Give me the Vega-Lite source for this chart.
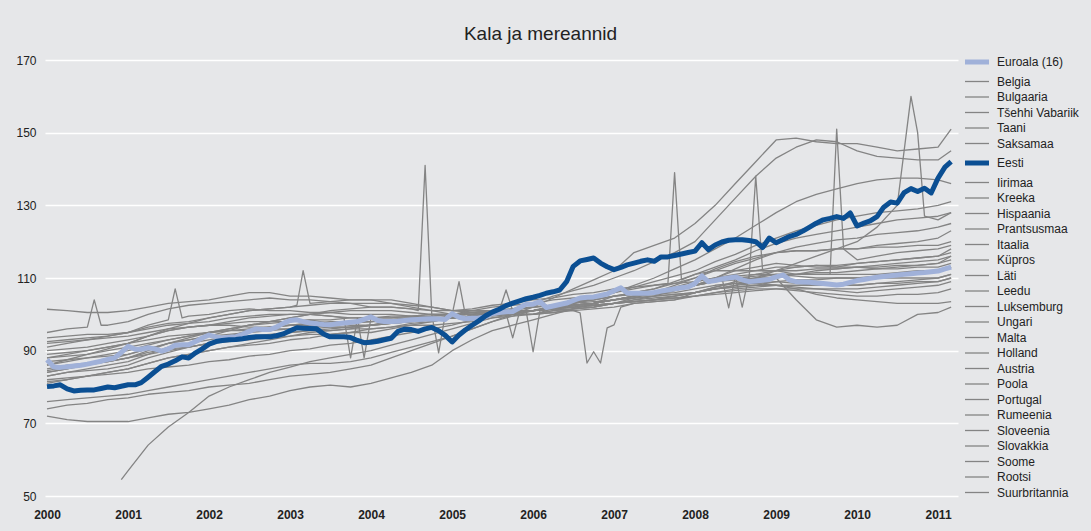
{
"$schema":"https://vega.github.io/schema/vega-lite/v6.json",
"width":913,"height":436,
"autosize":{"type":"none"},
"padding":{"left":45,"top":60,"right":133,"bottom":35},
"background":"#e6e7e9",
"config":{"view":{"stroke":null}},
"title":{"text":"Kala ja mereannid","font":"Liberation Sans","fontSize":19,"fontWeight":"normal","color":"#222222","anchor":"middle","frame":"group","dx":39,"offset":-5,"baseline":"alphabetic"},
"datasets":{
"names":[{"k":"EA","c":"Euroala (16)"},{"k":"BE","c":"Belgia"},{"k":"BG","c":"Bulgaaria"},{"k":"CZ","c":"Tšehhi Vabariik"},{"k":"DK","c":"Taani"},{"k":"DE","c":"Saksamaa"},{"k":"EE","c":"Eesti"},{"k":"IE","c":"Iirimaa"},{"k":"GR","c":"Kreeka"},{"k":"ES","c":"Hispaania"},{"k":"FR","c":"Prantsusmaa"},{"k":"IT","c":"Itaalia"},{"k":"CY","c":"Küpros"},{"k":"LV","c":"Läti"},{"k":"LT","c":"Leedu"},{"k":"LU","c":"Luksemburg"},{"k":"HU","c":"Ungari"},{"k":"MT","c":"Malta"},{"k":"NL","c":"Holland"},{"k":"AT","c":"Austria"},{"k":"PL","c":"Poola"},{"k":"PT","c":"Portugal"},{"k":"RO","c":"Rumeenia"},{"k":"SI","c":"Sloveenia"},{"k":"SK","c":"Slovakkia"},{"k":"FI","c":"Soome"},{"k":"SE","c":"Rootsi"},{"k":"UK","c":"Suurbritannia"}],
"rows":[
{"t":"2000-01","EA":87.5,"EE":80.1,"BE":85,"BG":74,"CZ":92,"DK":91,"DE":89,"IE":83,"GR":86,"ES":84,"FR":88,"IT":84.5,"CY":95,"LV":82,"LT":76,"HU":81,"LU":87,"MT":93.5,"NL":90,"AT":92.5,"PL":88,"PT":86,"SI":81.5,"SK":72,"FI":83,"SE":84,"UK":101.4},
{"t":"2000-02","EA":85.5,"EE":80.3},
{"t":"2000-03","EA":85.4,"EE":80.6},
{"t":"2000-04","EA":85.6,"EE":79.5,"BE":86,"BG":75,"CZ":92.5,"DK":92,"DE":89.5,"IE":84,"GR":87,"ES":85,"FR":88.5,"IT":85.5,"CY":96,"LV":82.5,"LT":76.5,"HU":82,"LU":87.5,"MT":94,"NL":90.5,"AT":93,"PL":89,"PT":87.5,"SI":82,"SK":71,"FI":84,"SE":85,"UK":101},
{"t":"2000-05","EA":85.8,"EE":78.9},
{"t":"2000-06","EA":86.0,"EE":79.1},
{"t":"2000-07","EA":86.3,"EE":79.2,"BE":86.5,"BG":75.5,"CZ":93,"DK":93,"DE":90,"IE":85,"GR":88,"ES":86.5,"FR":89,"IT":86.5,"CY":96.5,"LV":83,"LT":77,"HU":83,"LU":88,"MT":94.5,"NL":91,"AT":93.5,"PL":90,"PT":89,"SI":83,"SK":70.5,"FI":84.5,"SE":86,"UK":100.5},
{"t":"2000-08","EA":86.7,"EE":79.2,"CY":104},
{"t":"2000-09","EA":87.1,"EE":79.6,"CY":97},
{"t":"2000-10","EA":87.6,"EE":80,"BE":87,"BG":76.5,"CZ":93.5,"DK":94,"DE":91,"IE":86,"GR":89,"ES":87.5,"FR":90,"IT":87,"CY":97,"LV":83.5,"LT":77.5,"HU":84,"LU":88.5,"MT":94.5,"NL":92,"AT":94,"PL":91,"PT":90.5,"SI":84,"SK":70.5,"FI":85,"SE":87,"UK":100.5},
{"t":"2000-11","EA":88.0,"EE":79.8},
{"t":"2000-12","EA":89.5,"EE":80.2,"RO":54.5},
{"t":"2001-01","EA":91.2,"EE":80.6,"BE":88,"BG":77,"CZ":94,"DK":95,"DE":92,"IE":87,"GR":90,"ES":89,"FR":91,"IT":88,"CY":98,"LV":84,"LT":78,"HU":85,"LU":89,"MT":95,"NL":93,"AT":95,"PL":92,"PT":92,"RO":57,"SI":85,"SK":70.5,"FI":86,"SE":88,"UK":101},
{"t":"2001-02","EA":90.4,"EE":80.6},
{"t":"2001-03","EA":90.4,"EE":81.2},
{"t":"2001-04","EA":90.8,"EE":82.7,"BE":89.5,"BG":78,"CZ":95,"DK":97,"DE":94,"IE":89,"GR":91.5,"ES":90.5,"FR":92,"IT":89,"CY":100,"LV":85,"LT":79,"HU":86.5,"LU":90.5,"MT":96,"NL":94,"AT":96.5,"PL":93,"PT":94,"RO":64,"SI":86.5,"SK":71.5,"FI":88,"SE":90,"UK":102},
{"t":"2001-05","EA":90.5,"EE":84.2},
{"t":"2001-06","EA":89.9,"EE":85.7},
{"t":"2001-07","EA":90.5,"EE":86.3,"BE":90.5,"BG":78.5,"CZ":96,"DK":98.5,"DE":95.5,"IE":91,"GR":93,"ES":92,"FR":93,"IT":90,"CY":101.5,"LV":85.5,"LT":80,"HU":88,"LU":92,"MT":97,"NL":95.5,"AT":97.5,"PL":94,"PT":96,"RO":69,"SI":88,"SK":72.5,"FI":89.5,"SE":92,"UK":103},
{"t":"2001-08","EA":91.5,"EE":87.2,"DK":107},
{"t":"2001-09","EA":91.6,"EE":88.3,"DK":99},
{"t":"2001-10","EA":91.6,"EE":88,"BE":91,"BG":79,"CZ":96.5,"DK":99.5,"DE":96.5,"IE":92,"GR":94,"ES":93.5,"FR":94,"IT":91,"CY":102.5,"LV":86,"LT":81,"HU":89,"LU":93,"MT":97.5,"NL":96.5,"AT":98,"PL":94.5,"PT":97.5,"RO":73,"SI":89,"SK":73,"FI":91,"SE":93,"UK":103.5},
{"t":"2001-11","EA":92.5,"EE":89.4},
{"t":"2001-12","EA":93.5,"EE":90.5},
{"t":"2002-01","EA":94.3,"EE":91.8,"BE":92,"BG":80,"CZ":97,"DK":100,"DE":97,"IE":93,"GR":95,"ES":95,"FR":95,"IT":92,"CY":103,"LV":87,"LT":82,"HU":90,"LU":94,"MT":98,"NL":97,"AT":99,"PL":95,"PT":99,"RO":77.5,"SI":90,"SK":74,"FI":92,"SE":94,"UK":104},
{"t":"2002-02","EA":93.8,"EE":92.5},
{"t":"2002-03","EA":93.5,"EE":92.8},
{"t":"2002-04","EA":93.7,"EE":93,"BE":93,"BG":80.5,"CZ":97.5,"DK":101,"DE":97,"IE":94,"GR":96,"ES":96,"FR":95.5,"IT":92.5,"CY":103.5,"LV":87.5,"LT":83,"HU":91,"LU":94.5,"MT":99,"NL":98,"AT":100,"PL":95.5,"PT":100,"RO":80,"SI":91,"SK":75,"FI":93,"SE":95.5,"UK":105},
{"t":"2002-05","EA":93.8,"EE":93.1},
{"t":"2002-06","EA":94.5,"EE":93.3},
{"t":"2002-07","EA":95.3,"EE":93.6,"BE":94,"BG":81,"CZ":98,"DK":101.5,"DE":96.5,"IE":95.5,"GR":97,"ES":97,"FR":96,"IT":93,"CY":104,"LV":88.5,"LT":84,"HU":92,"LU":95,"MT":99.5,"NL":99,"AT":101,"PL":95.5,"PT":101,"RO":82,"SI":91.5,"SK":76.5,"FI":93.5,"SE":97,"UK":106},
{"t":"2002-08","EA":96.0,"EE":93.8},
{"t":"2002-09","EA":95.8,"EE":93.8},
{"t":"2002-10","EA":95.8,"EE":93.8,"BE":94.5,"BG":82,"CZ":98,"DK":101,"DE":96.5,"IE":96.5,"GR":97.5,"ES":98,"FR":96.5,"IT":93.5,"CY":104.5,"LV":89,"LT":85,"HU":93,"LU":95.5,"MT":100,"NL":99.5,"AT":101.5,"PL":96,"PT":101.5,"RO":84,"SI":92,"SK":77.5,"FI":94,"SE":98,"UK":106},
{"t":"2002-11","EA":96.5,"EE":94.1},
{"t":"2002-12","EA":97.5,"EE":94.6},
{"t":"2003-01","EA":98.3,"EE":95.5,"BE":95,"BG":83,"CZ":98,"DK":101,"DE":97,"IE":97,"GR":98,"ES":99,"FR":97,"IT":94,"CY":104,"LV":90,"LT":86,"HU":94,"LU":96,"MT":100,"NL":100,"AT":102,"PL":96,"PT":102,"RO":85.5,"SI":93,"SK":79,"FI":95,"SE":99,"UK":105},
{"t":"2003-02","EA":98.5,"EE":96.3,"AT":102.5},
{"t":"2003-03","EA":98.0,"EE":96.2,"AT":112},
{"t":"2003-04","EA":97.6,"EE":96.1,"BE":95.5,"BG":83.5,"CZ":98.5,"DK":100.5,"DE":97,"IE":97.5,"GR":98.5,"ES":100,"FR":97.5,"IT":95,"CY":104,"LV":90.5,"LT":86.5,"HU":94.5,"LU":96.5,"MT":100,"NL":100,"AT":103,"PL":96,"PT":102.5,"RO":87,"SI":93.5,"SK":80,"FI":95.5,"SE":100,"UK":105},
{"t":"2003-05","EA":97.4,"EE":96},
{"t":"2003-06","EA":97.2,"EE":94.6},
{"t":"2003-07","EA":97.1,"EE":93.8,"BE":96,"BG":84,"CZ":97.5,"DK":100.5,"DE":96.5,"IE":98,"GR":98.5,"ES":101,"FR":97.5,"IT":95.5,"CY":103.5,"LV":91.5,"LT":86.5,"HU":94.5,"LU":97,"MT":99.5,"NL":99.5,"AT":103.5,"PL":96.5,"PT":103,"RO":88,"SI":94.5,"SK":80.5,"FI":95.5,"SE":100.5,"UK":104.5},
{"t":"2003-08","EA":97.4,"EE":93.8},
{"t":"2003-09","EA":97.6,"EE":93.8,"NL":99},
{"t":"2003-10","EA":97.8,"EE":93.6,"BE":96.5,"BG":85,"CZ":97,"DK":100,"DE":96.5,"IE":98,"GR":99,"ES":101.5,"FR":98,"IT":96,"CY":103,"LV":92,"LT":87,"HU":95,"LU":97.5,"MT":99,"NL":88,"AT":104,"PL":96.5,"PT":103,"RO":89,"SI":95,"SK":80,"FI":96,"SE":101,"UK":104},
{"t":"2003-11","EA":98.0,"EE":92.8,"NL":99},
{"t":"2003-12","EA":98.6,"EE":92.2,"NL":88},
{"t":"2004-01","EA":99.3,"EE":92.3,"BE":97,"BG":86,"CZ":97,"DK":100,"DE":97,"IE":98,"GR":99,"ES":102,"FR":98,"IT":97,"CY":102,"LV":93,"LT":88,"HU":95,"LU":98,"MT":99,"NL":99,"AT":104,"PL":97,"PT":103,"RO":90,"SI":96,"SK":81,"FI":96,"SE":101,"UK":104},
{"t":"2004-02","EA":98.3,"EE":92.6},
{"t":"2004-03","EA":98.0,"EE":93},
{"t":"2004-04","EA":98.0,"EE":93.4,"BE":97.5,"BG":88,"CZ":98,"DK":100,"DE":97.5,"IE":98,"GR":99.5,"ES":102,"FR":98.5,"IT":97.5,"CY":102,"LV":94,"LT":89.5,"HU":96,"LU":98.5,"MT":99,"NL":99,"AT":104,"PL":98,"PT":103,"RO":91.5,"SI":96.5,"SK":82.5,"FI":96.5,"SE":101,"UK":103},
{"t":"2004-05","EA":98.1,"EE":95.3},
{"t":"2004-06","EA":98.3,"EE":95.9},
{"t":"2004-07","EA":98.5,"EE":95.8,"BE":98,"BG":90,"CZ":98.5,"DK":99.5,"DE":98,"IE":98.5,"GR":99.5,"ES":101.5,"FR":99,"IT":98,"CY":101.5,"LV":95,"LT":91,"HU":97,"LU":99,"MT":99.5,"NL":99,"AT":103,"PL":99,"PT":102.5,"RO":93,"SI":97.5,"SK":84,"FI":97,"SE":100.5,"UK":102},
{"t":"2004-08","EA":98.6,"EE":95.3,"CY":101},
{"t":"2004-09","EA":98.7,"EE":96,"CY":141},
{"t":"2004-10","EA":98.8,"EE":96.4,"BE":98.5,"BG":92,"CZ":99,"DK":99,"DE":98.5,"IE":99,"GR":100,"ES":101,"FR":99,"IT":98.5,"CY":100,"LV":96,"LT":92.5,"HU":98,"LU":99.5,"MT":100,"NL":99,"AT":102,"PL":99.5,"PT":102,"RO":94.5,"SI":98,"SK":86,"FI":97,"SE":100,"UK":101},
{"t":"2004-11","EA":98.7,"EE":95.5,"SE":89.4},
{"t":"2004-12","EA":98.6,"EE":94.2,"SE":100},
{"t":"2005-01","EA":100.2,"EE":92.4,"BE":99,"BG":94,"CZ":99,"DK":99,"DE":99,"IE":99,"GR":100,"ES":101,"FR":99.5,"IT":99,"CY":100,"LV":97,"LT":94,"HU":99,"LU":100,"MT":100,"NL":99,"AT":101,"PL":100,"PT":101,"RO":96,"SI":99,"SK":90,"FI":97.5,"SE":100,"UK":100},
{"t":"2005-02","EA":99.2,"EE":94.3,"UK":109},
{"t":"2005-03","EA":98.8,"EE":95.7,"UK":100},
{"t":"2005-04","EA":98.9,"EE":97,"BE":99.5,"BG":96,"CZ":99.5,"DK":99.5,"DE":99.5,"IE":99.5,"GR":101,"ES":101.5,"FR":100,"IT":99.5,"CY":100.5,"LV":98.5,"LT":96,"HU":99.5,"LU":100.5,"MT":100.5,"NL":99.5,"AT":100.5,"PL":100,"PT":101,"RO":97.5,"SI":99.5,"SK":93,"FI":98,"SE":100,"UK":100},
{"t":"2005-05","EA":99.0,"EE":98.2},
{"t":"2005-06","EA":99.3,"EE":99.6},
{"t":"2005-07","EA":100.2,"EE":100.6,"BE":100.5,"BG":98,"CZ":100,"DK":100,"DE":100,"IE":100,"GR":102,"ES":102.5,"FR":100.5,"IT":100,"CY":101,"LV":100,"LT":98,"HU":100,"LU":101,"MT":100.5,"NL":99.5,"AT":100,"PL":100.5,"PT":101,"RO":99,"SI":100,"SK":95.5,"FI":99,"SE":100.5,"UK":100.5},
{"t":"2005-08","EA":100.5,"EE":101.4,"PT":101},
{"t":"2005-09","EA":100.7,"EE":102.4,"PT":106.7,"IE":100.3},
{"t":"2005-10","EA":100.8,"EE":103.1,"BE":101,"BG":100,"CZ":100,"DK":100.5,"DE":100.5,"IE":93.5,"GR":102.5,"ES":103,"FR":100.5,"IT":100.5,"CY":101.5,"LV":101.5,"LT":99.5,"HU":100,"LU":101.5,"MT":101,"NL":100,"AT":100,"PL":100.5,"PT":101,"RO":100,"SI":100.5,"SK":97,"FI":99.5,"SE":100.5,"UK":100.5},
{"t":"2005-11","EA":101.8,"EE":103.7,"IE":100.7},
{"t":"2005-12","EA":102.8,"EE":104.3,"FR":100.8},
{"t":"2006-01","EA":102.8,"EE":104.7,"BE":102,"BG":102,"CZ":100,"DK":101,"DE":101,"IE":101,"GR":103,"ES":104,"FR":89.7,"IT":101,"CY":102,"LV":103,"LT":101,"HU":100,"LU":102,"MT":101,"NL":100,"AT":100,"PL":101,"PT":101,"RO":101,"SI":101,"SK":98.5,"FI":100,"SE":101,"UK":101},
{"t":"2006-02","EA":103.5,"EE":105.2,"FR":101},
{"t":"2006-03","EA":101.9,"EE":105.8},
{"t":"2006-04","EA":102.3,"EE":106.2,"BE":102.5,"BG":104.5,"CZ":101,"DK":101.5,"DE":101.5,"IE":102,"GR":104,"ES":104.5,"FR":101.5,"IT":101.5,"CY":102.5,"LV":105,"LT":102.5,"HU":101.5,"LU":102.5,"MT":101.5,"NL":100.5,"AT":100.5,"PL":101.5,"PT":101.5,"RO":102,"SI":102,"SK":100,"FI":101,"SE":101.5,"UK":101.5},
{"t":"2006-05","EA":102.7,"EE":106.7},
{"t":"2006-06","EA":103.1,"EE":109},
{"t":"2006-07","EA":103.8,"EE":113.2,"BE":103.5,"BG":107,"CZ":101.5,"DK":102.5,"DE":102,"IE":102.5,"GR":104.5,"ES":105.5,"FR":102,"IT":102.5,"CY":103.5,"LV":106.5,"LT":104,"HU":103,"LU":103,"MT":101,"NL":101,"AT":101.5,"PL":102,"PT":102,"RO":103,"SI":102.5,"SK":101.5,"FI":101.5,"SE":102.5,"UK":102.5},
{"t":"2006-08","EA":104.5,"EE":114.7,"MT":100.4},
{"t":"2006-09","EA":104.7,"EE":115.1,"MT":86.6},
{"t":"2006-10","EA":104.8,"EE":115.5,"BE":104,"BG":109.5,"CZ":102,"DK":103,"DE":102.5,"IE":103,"GR":105,"ES":106,"FR":102.5,"IT":103,"CY":104,"LV":108,"LT":105,"HU":104.5,"LU":103.5,"MT":89.7,"NL":101.5,"AT":102,"PL":102.5,"PT":102.5,"RO":104,"SI":103,"SK":103,"FI":102,"SE":103,"UK":103},
{"t":"2006-11","EA":105.2,"EE":114.1,"MT":86.6},
{"t":"2006-12","EA":105.6,"EE":113.1,"MT":96.3},
{"t":"2007-01","EA":106.5,"EE":112.3,"BE":105,"BG":112,"CZ":103,"DK":104,"DE":103,"IE":104,"GR":106,"ES":107,"FR":103,"IT":104,"CY":105,"LV":110,"LT":106,"HU":106,"LU":104,"MT":97.1,"NL":102,"AT":103,"PL":103,"PT":103,"RO":105,"SI":104,"SK":105,"FI":103,"SE":104,"UK":104},
{"t":"2007-02","EA":107.3,"EE":112.9,"MT":102},
{"t":"2007-03","EA":105.9,"EE":113.6},
{"t":"2007-04","EA":105.8,"EE":114.1,"BE":105.5,"BG":117,"CZ":104.5,"DK":105,"DE":103.5,"IE":105,"GR":107,"ES":107.5,"FR":103.5,"IT":104.5,"CY":105.5,"LV":112,"LT":108,"HU":107.5,"LU":105,"MT":103,"NL":103,"AT":104,"PL":104,"PT":103.5,"RO":106,"SI":105,"SK":106,"FI":103.5,"SE":104.5,"UK":105},
{"t":"2007-05","EA":105.8,"EE":114.6},
{"t":"2007-06","EA":105.8,"EE":115},
{"t":"2007-07","EA":106.0,"EE":114.6,"BE":106,"BG":119,"CZ":106,"DK":106,"DE":104,"IE":105.5,"GR":108,"ES":108,"FR":104,"IT":105,"CY":106,"LV":114.5,"LT":110,"HU":109,"LU":106,"MT":103.5,"NL":103.5,"AT":104.5,"PL":105,"PT":104,"RO":107,"SI":106,"SK":107,"FI":104,"SE":105,"UK":105.5},
{"t":"2007-08","EA":106.4,"EE":115.8},
{"t":"2007-09","EA":106.7,"EE":115.8,"GR":108.5},
{"t":"2007-10","EA":107.0,"EE":116.2,"BE":107,"BG":121,"CZ":108,"DK":107,"DE":105,"IE":106,"GR":139,"ES":108.5,"FR":104.5,"IT":105.5,"CY":107,"LV":117,"LT":112.5,"HU":110.5,"LU":107,"MT":104,"NL":104,"AT":105,"PL":106.5,"PT":104.5,"RO":109,"SI":107.5,"SK":108.5,"FI":105,"SE":105.5,"UK":106.5},
{"t":"2007-11","EA":107.3,"EE":116.6,"GR":109.5},
{"t":"2007-12","EA":107.5,"EE":117},
{"t":"2008-01","EA":108.5,"EE":117.4,"BE":108,"BG":125,"CZ":110,"DK":108,"DE":106,"IE":107,"GR":111,"ES":109,"FR":105,"IT":106,"CY":108,"LV":120,"LT":115,"HU":112,"LU":108,"MT":106,"NL":105,"AT":106,"PL":108,"PT":105,"RO":111,"SI":109,"SK":110,"FI":106,"SE":106,"UK":108},
{"t":"2008-02","EA":110.6,"EE":119.7},
{"t":"2008-03","EA":109.0,"EE":117.8},
{"t":"2008-04","EA":109.3,"EE":119.1,"BE":109.5,"BG":130,"CZ":112.5,"DK":110,"DE":107,"IE":108,"GR":112,"ES":110,"FR":105.5,"IT":107,"CY":109,"LV":126,"LT":118,"HU":114.5,"LU":109,"MT":107,"NL":106,"AT":107,"PL":110,"PT":106,"RO":113,"SI":110,"SK":112,"FI":107.5,"SE":107.5,"UK":109},
{"t":"2008-05","EA":109.7,"EE":119.9,"ES":110.2},
{"t":"2008-06","EA":110.0,"EE":120.4,"ES":101.8},
{"t":"2008-07","EA":110.3,"EE":120.5,"BE":110.5,"BG":136,"CZ":114.5,"DK":112,"DE":107.5,"IE":108.5,"GR":112,"ES":110.5,"FR":106,"IT":107.5,"CY":110,"LV":132,"LT":121,"HU":116.5,"LU":110,"MT":108,"NL":107,"AT":108,"PL":112.5,"PT":106.5,"RO":115,"SI":111,"SK":114,"FI":109,"SE":108.5,"UK":109.5},
{"t":"2008-08","EA":109.5,"EE":120.5,"ES":102},
{"t":"2008-09","EA":109.0,"EE":120.3,"ES":110.7,"CY":110},
{"t":"2008-10","EA":109.2,"EE":120,"BE":111,"BG":142,"CZ":116,"DK":113,"DE":108,"IE":108.5,"GR":112,"ES":111,"FR":106.5,"IT":108,"CY":138,"LV":138,"LT":124.5,"HU":119,"LU":110.5,"MT":110,"NL":107.5,"AT":108.5,"PL":115,"PT":107,"RO":117.5,"SI":112,"SK":115.5,"FI":110,"SE":109.5,"UK":110},
{"t":"2008-11","EA":109.4,"EE":118.4,"CY":112},
{"t":"2008-12","EA":109.6,"EE":121},
{"t":"2009-01","EA":110.3,"EE":119.7,"BE":112,"BG":148,"CZ":117,"DK":114,"DE":108,"IE":108,"GR":112,"ES":111,"FR":107,"IT":109,"CY":112,"LV":143,"LT":128,"HU":121,"LU":111,"MT":112,"NL":108,"AT":109,"PL":117,"PT":107,"RO":119.5,"SI":113,"SK":117,"FI":111,"SE":110,"UK":110},
{"t":"2009-02","EA":110.8,"EE":120.6},
{"t":"2009-03","EA":109.5,"EE":121.4},
{"t":"2009-04","EA":109.0,"EE":122,"BE":112,"BG":148.5,"CZ":117.5,"DK":113.5,"DE":107.5,"IE":107,"GR":111,"ES":110.5,"FR":107,"IT":109.5,"CY":113,"LV":146,"LT":131,"HU":123,"LU":111,"MT":114,"NL":108,"AT":108.5,"PL":118.5,"PT":106.5,"RO":121,"SI":113,"SK":117.5,"FI":111,"SE":111,"UK":104},
{"t":"2009-05","EA":108.9,"EE":122.9},
{"t":"2009-06","EA":108.8,"EE":124},
{"t":"2009-07","EA":108.6,"EE":125.1,"BE":112.5,"BG":147.5,"CZ":117.5,"DK":113,"DE":107,"IE":105.5,"GR":111,"ES":110,"FR":107,"IT":109.5,"CY":113.5,"LV":148,"LT":133,"HU":124.5,"LU":111.5,"MT":116,"NL":108,"AT":108,"PL":119.5,"PT":106,"RO":122,"SI":113.5,"SK":117.5,"FI":111,"SE":112,"UK":98.5},
{"t":"2009-08","EA":108.5,"EE":126},
{"t":"2009-09","EA":108.3,"EE":126.4,"GR":111},
{"t":"2009-10","EA":108.1,"EE":126.9,"BE":112.5,"BG":147,"CZ":118,"DK":113,"DE":106.5,"IE":104.5,"GR":151,"ES":110,"FR":107,"IT":110,"CY":113,"LV":147.5,"LT":134.5,"HU":126,"LU":111.5,"MT":118,"NL":108,"AT":108,"PL":120.5,"PT":105.5,"RO":123,"SI":113.5,"SK":118,"FI":111,"SE":112.5,"UK":96.5},
{"t":"2009-11","EA":108.3,"EE":126.4,"GR":118},
{"t":"2009-12","EA":108.8,"EE":127.9},
{"t":"2010-01","EA":109.3,"EE":124.3,"BE":113,"BG":147,"CZ":118,"DK":113,"DE":106,"IE":104,"GR":115,"ES":110,"FR":107,"IT":110,"CY":114,"LV":145,"LT":136,"HU":127,"LU":112,"MT":120,"NL":108,"AT":108,"PL":121,"PT":105,"RO":124,"SI":114,"SK":118,"FI":111,"SE":113,"UK":97},
{"t":"2010-02","EA":109.6,"EE":125.1},
{"t":"2010-03","EA":109.9,"EE":125.7},
{"t":"2010-04","EA":110.2,"EE":126.9,"BE":113.5,"BG":146,"CZ":119,"DK":112.5,"DE":106.5,"IE":103.5,"GR":116,"ES":110,"FR":107.5,"IT":110.5,"CY":114.5,"LV":143.5,"LT":137,"HU":128,"LU":112.5,"MT":124,"NL":108.5,"AT":108.5,"PL":122,"PT":105,"RO":125,"SI":114.5,"SK":118.5,"FI":111,"SE":113,"UK":96.5},
{"t":"2010-05","EA":110.4,"EE":129.5},
{"t":"2010-06","EA":110.6,"EE":130.9},
{"t":"2010-07","EA":110.8,"EE":130.6,"BE":114,"BG":145,"CZ":119.5,"DK":112.5,"DE":107,"IE":103,"GR":117,"ES":110,"FR":108,"IT":111,"CY":115,"LV":143,"LT":137.5,"HU":128.5,"LU":113,"MT":130,"NL":108.5,"AT":109,"PL":122.5,"PT":105.5,"RO":126,"SI":115,"SK":118.5,"FI":111.5,"SE":113.5,"UK":97},
{"t":"2010-08","EA":111.0,"EE":133.5},
{"t":"2010-09","EA":111.2,"EE":134.6,"MT":160},
{"t":"2010-10","EA":111.4,"EE":133.8,"BE":114.5,"BG":145.5,"CZ":120,"DK":113,"DE":107.5,"IE":103,"GR":117.5,"ES":110,"FR":108.5,"IT":111.5,"CY":115.5,"LV":142.5,"LT":137.5,"HU":129,"LU":113.5,"MT":150,"NL":109,"AT":109.5,"PL":123,"PT":105.5,"RO":126.5,"SI":115.5,"SK":119,"FI":112,"SE":113.5,"UK":100},
{"t":"2010-11","EA":111.5,"EE":134.7,"MT":127},
{"t":"2010-12","EA":111.7,"EE":133.4},
{"t":"2011-01","EA":111.9,"EE":137.5,"BE":115,"BG":146,"CZ":121,"DK":113,"DE":108,"IE":103,"GR":118,"ES":110,"FR":109,"IT":112,"CY":116,"LV":142.5,"LT":137,"HU":130,"LU":114,"MT":126,"NL":109,"AT":110,"PL":124,"PT":106,"RO":127,"SI":116,"SK":119,"FI":112,"SE":114,"UK":100.5},
{"t":"2011-02","EA":112.5,"EE":140.5},
{"t":"2011-03","EA":113.0,"EE":142,"BE":116,"BG":151,"CZ":123,"DK":114,"DE":109,"IE":103.5,"GR":119,"ES":111,"FR":110,"IT":113,"CY":118,"LV":145,"LT":136,"HU":131,"LU":115,"MT":128,"NL":110,"AT":111,"PL":125,"PT":107,"RO":128,"SI":117,"SK":120,"FI":113,"SE":116,"UK":102}
]},
"data":{"name":"rows"},
"transform":[
{"fold":["EA","BE","BG","CZ","DK","DE","EE","IE","GR","ES","FR","IT","CY","LV","LT","LU","HU","MT","NL","AT","PL","PT","RO","SI","SK","FI","SE","UK"],"as":["k","v"]},
{"filter":"isValid(datum.v)"},
{"lookup":"k","from":{"data":{"name":"names"},"key":"k","fields":["c"]}}
],
"encoding":{
"x":{"field":"t","type":"temporal","scale":{"type":"utc","domain":[{"year":1999,"month":12,"date":23,"utc":true},{"year":2011,"month":4,"date":1,"utc":true}]},"axis":{"title":null,"grid":false,"domain":false,"ticks":false,"format":"%Y","tickCount":{"interval":"year","step":1},"labelFont":"Liberation Sans","labelFontSize":12,"labelFontWeight":"bold","labelColor":"#222222","labelPadding":13,"labelFlush":false,"labelOverlap":false}},
"y":{"field":"v","type":"quantitative","scale":{"domain":[50,170],"nice":false,"zero":false},"axis":{"title":null,"values":[50,70,90,110,130,150,170],"domain":false,"ticks":false,"grid":true,"gridColor":"#ffffff","gridWidth":1.5,"gridOpacity":1,"labelFont":"Liberation Sans","labelFontSize":12,"labelColor":"#222222","labelPadding":9}},
"color":{"field":"c","type":"nominal","scale":{"domain":["Euroala (16)","Belgia","Bulgaaria","Tšehhi Vabariik","Taani","Saksamaa","Eesti","Iirimaa","Kreeka","Hispaania","Prantsusmaa","Itaalia","Küpros","Läti","Leedu","Luksemburg","Ungari","Malta","Holland","Austria","Poola","Portugal","Rumeenia","Sloveenia","Slovakkia","Soome","Rootsi","Suurbritannia"],"range":["#a0b1d9","#848484","#848484","#848484","#848484","#848484","#0b4f93","#848484","#848484","#848484","#848484","#848484","#848484","#848484","#848484","#848484","#848484","#848484","#848484","#848484","#848484","#848484","#848484","#848484","#848484","#848484","#848484","#848484"]},
"legend":{"title":null,"orient":"none","legendX":926,"legendY":-4,"padding":0,"symbolType":"M-2,0H2","symbolSize":144,"symbolStrokeWidth":1.3,"labelOffset":14,"rowPadding":3.5,"labelFont":"Liberation Sans","labelFontSize":12,"labelColor":"#222222","labelLimit":200,"encode":{"symbols":{"update":{"strokeWidth":{"signal":"datum.value === 'Euroala (16)' || datum.value === 'Eesti' ? 5 : 1.3"}}}}}}
},
"layer":[
{"transform":[{"filter":"datum.k != 'EA' && datum.k != 'EE'"}],"mark":{"type":"line","strokeWidth":1.3,"strokeJoin":"round"}},
{"transform":[{"filter":"datum.k == 'EA'"}],"mark":{"type":"line","strokeWidth":5,"strokeJoin":"round"}},
{"transform":[{"filter":"datum.k == 'EE'"}],"mark":{"type":"line","strokeWidth":5,"strokeJoin":"round"}}
]
}
